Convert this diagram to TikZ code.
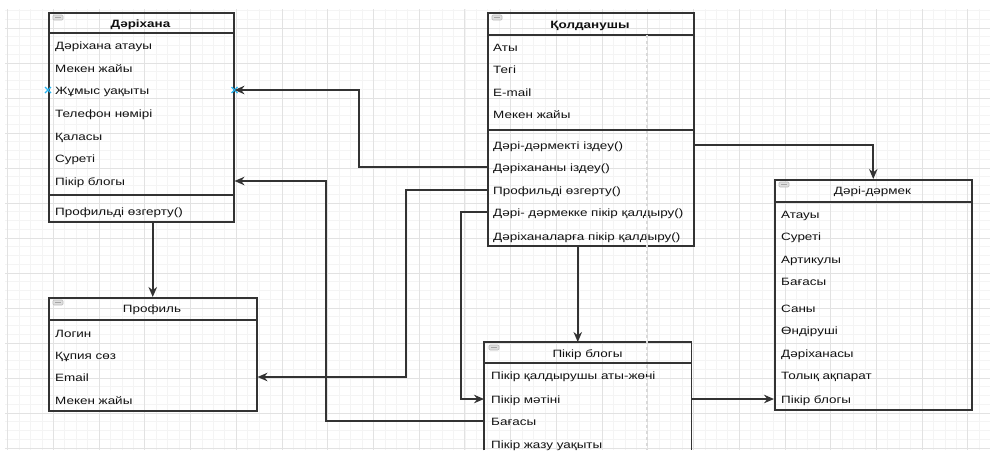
\documentclass[tikz,border=0pt]{standalone}
\usepackage{fontspec}
\newfontfamily\umlfont[FakeStretch=1.27]{Liberation Sans}
\usetikzlibrary{arrows.meta}

\definecolor{umlline}{HTML}{333333}
\definecolor{gridmajor}{HTML}{E2E2E2}
\definecolor{gridminor}{HTML}{F4F4F4}
\definecolor{pointblue}{HTML}{29B6F2}
\definecolor{rowtext}{HTML}{111111}

% small collapse icon in the top left corner of a class header
\newcommand{\classIcon}[1]{
  \draw[gray!55, fill=gray!25, rounded corners=1pt, line width=0.6pt]
    ([xshift=5pt,yshift=-3pt]#1.north west) rectangle ++(10,5);
  \draw[gray!70, line width=0.6pt]
    ([xshift=7pt,yshift=-5.5pt]#1.north west) -- ++(6,0);
}

\begin{document}
\begin{tikzpicture}[x=1pt, y=-1pt,
  classbox/.style={draw=umlline, line width=1.5pt, anchor=north west, inner sep=0pt},
  openbox/.style={anchor=north west, inner sep=0pt},
  sepline/.style={umlline, line width=1.5pt},
  row/.style={anchor=west, inner sep=0pt, text height=8pt, text depth=0pt,
    text=rowtext, font=\umlfont\fontsize{10.6}{12}\selectfont},
  title/.style={row, anchor=center},
  boldtitle/.style={title, font=\umlfont\bfseries\fontsize{10.6}{12}\selectfont},
  conn/.style={umlline, line width=1.6pt, -{Stealth[length=10pt,width=8.5pt]}},
  guide/.style={gray!30, line width=1.2pt, dash pattern=on 3pt off 3pt},
  cross/.style={pointblue, line width=1.2pt}]

\useasboundingbox (0,0) rectangle (990,450);

% background grid
\begin{scope}
  \clip (5,9) rectangle (990,450);
  \foreach \i in {0,...,90} \draw[gridminor, line width=0.8pt] ({-38+\i*11.43},9) -- ++(0,441);
  \foreach \i in {0,...,52} \draw[gridminor, line width=0.8pt] (5,{-7+\i*8.75}) -- ++(985,0);
  \foreach \i in {0,...,22} \draw[gridmajor, line width=0.9pt] ({-38+\i*45.72},9) -- ++(0,441);
  \foreach \i in {0,...,13} \draw[gridmajor, line width=0.9pt] (5,{-7+\i*35}) -- ++(985,0);
\end{scope}

% Dariхana
\node[classbox, minimum width=185pt, minimum height=209pt] (dar) at (48,12) {};
\draw[sepline] ([yshift=-21pt]dar.north west) -- ([yshift=-21pt]dar.north east);
\draw[sepline] ([yshift=-183pt]dar.north west) -- ([yshift=-183pt]dar.north east);
\classIcon{dar}
\node[boldtitle] (DT) at (140.5,23) {Дәріхана};
\node[row] (D1) at (55,45) {Дәріхана атауы};
\node[row] (D2) at (55,68) {Мекен жайы};
\node[row] (D3) at (55,90) {Жұмыс уақыты};
\node[row] (D4) at (55,113) {Телефон нөмірі};
\node[row] (D5) at (55,136) {Қаласы};
\node[row] (D6) at (55,158) {Суреті};
\node[row] (D7) at (55,181) {Пікір блогы};
\node[row] (DM) at (55,211) {Профильді өзгерту()};

% Qoldanushy
\node[classbox, minimum width=206pt, minimum height=233pt] (qol) at (487,12) {};
\draw[sepline] ([yshift=-23pt]qol.north west) -- ([yshift=-23pt]qol.north east);
\draw[sepline] ([yshift=-118pt]qol.north west) -- ([yshift=-118pt]qol.north east);
\classIcon{qol}
\node[boldtitle] (QT) at (590,24) {Қолданушы};
\node[row] (Q1) at (493,47) {Аты};
\node[row] (Q2) at (493,69) {Тегі};
\node[row] (Q3) at (493,92) {E-mail};
\node[row] (Q4) at (493,114) {Мекен жайы};
\node[row] (QM1) at (493,145) {Дәрі-дәрмекті іздеу()};
\node[row] (QM2) at (493,167) {Дәріхананы іздеу()};
\node[row] (QM3) at (493,190) {Профильді өзгерту()};
\node[row] (QM4) at (493,212) {Дәрі- дәрмекке пікір қалдыру()};
\node[row] (QM5) at (493,236) {Дәріханаларға пікір қалдыру()};

% Dari-darmek
\node[classbox, minimum width=197pt, minimum height=230pt] (drug) at (774,179) {};
\draw[sepline] ([yshift=-23pt]drug.north west) -- ([yshift=-23pt]drug.north east);
\classIcon{drug}
\node[title] (MT) at (872.5,190) {Дәрі-дәрмек};
\node[row] (M1) at (781,214) {Атауы};
\node[row] (M2) at (781,236) {Суреті};
\node[row] (M3) at (781,259) {Артикулы};
\node[row] (M4) at (781,281) {Бағасы};
\node[row] (M5) at (781,308) {Саны};
\node[row] (M6) at (781,330) {Өндіруші};
\node[row] (M7) at (781,353) {Дәріханасы};
\node[row] (M8) at (781,375) {Толық ақпарат};
\node[row] (M9) at (781,399) {Пікір блогы};

% Profil
\node[classbox, minimum width=208pt, minimum height=113pt] (prof) at (48,297) {};
\draw[sepline] ([yshift=-23pt]prof.north west) -- ([yshift=-23pt]prof.north east);
\classIcon{prof}
\node[title] (PT) at (152,308) {Профиль};
\node[row] (P1) at (55,333) {Логин};
\node[row] (P2) at (55,355) {Құпия сөз};
\node[row] (P3) at (55,377) {Email};
\node[row] (P4) at (55,400) {Мекен жайы};

% Pikir blogy (cut at the bottom)
\node[openbox, minimum width=207pt, minimum height=108pt] (blog) at (484,342) {};
\draw[sepline] (blog.south west) -- (blog.north west) -- (blog.north east) -- (blog.south east);
\draw[sepline] ([yshift=-21pt]blog.north west) -- ([yshift=-21pt]blog.north east);
\classIcon{blog}
\node[title] (BT) at (587.5,353) {Пікір блогы};
\node[row] (B1) at (491,375) {Пікір қалдырушы аты-жөні};
\node[row] (B2) at (491,399) {Пікір мәтіні};
\node[row] (B3) at (491,421) {Бағасы};
\node[row] (B4) at (491,444) {Пікір жазу уақыты};

% guide line
\draw[guide] (647,35) -- (647,450);

% connection points
\draw[cross] (dar.west |- D3) +(-3,-3) -- +(3,3) +(-3,3) -- +(3,-3);
\draw[cross] (dar.east |- D3) +(-3,-3) -- +(3,3) +(-3,3) -- +(3,-3);

% connectors
\draw[conn] (dar.south -| prof.north) -- (prof.north);
\draw[conn] (qol.west |- QM2) -- ++(-128,0) |- (dar.east |- D3);
\draw[conn] (blog.west |- B3) -- ++(-158,0) |- (dar.east |- D7);
\draw[conn] (qol.west |- QM3) -- ++(-81,0) |- (prof.east |- P3);
\draw[conn] (qol.west |- QM4) -- ++(-26,0) |- (blog.west |- B2);
\draw[conn] ([xshift=-13pt]qol.south) -- ([xshift=-13pt]qol.south |- blog.north);
\draw[conn] (qol.east |- QM1) -| (drug.north);
\draw[conn] (blog.east |- M9) -- (drug.west |- M9);

\end{tikzpicture}
\end{document}
